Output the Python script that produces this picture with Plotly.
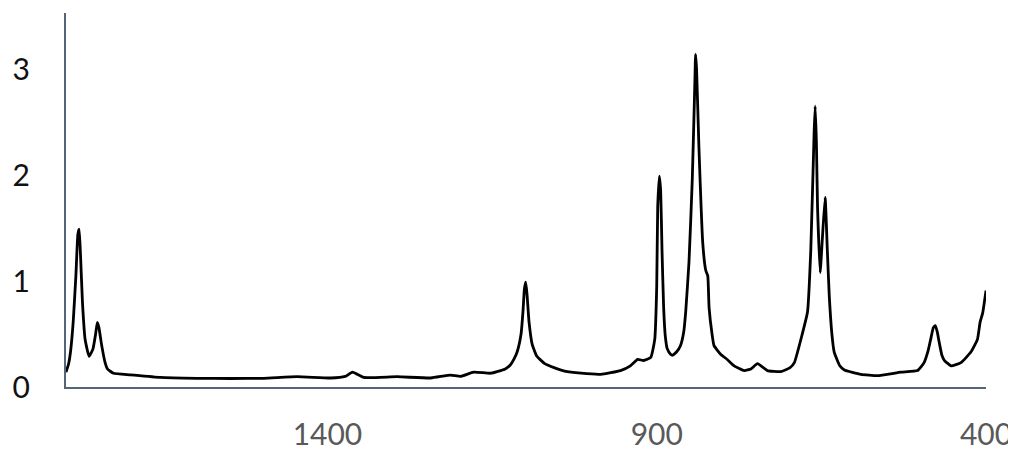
import plotly.graph_objects as go

# Raman-like spectrum (wavenumber, intensity)
wavenumber = [1797, 1793, 1790, 1786, 1782, 1779, 1777, 1775, 1772, 1768, 1762, 1756, 1752, 1749.5, 1747, 1743, 1738, 1734, 1725,
              1699, 1654, 1598, 1547, 1497, 1446, 1395, 1373, 1362, 1345, 1294, 1243, 1213, 1198, 1178, 1152,
              1137, 1130, 1122, 1117, 1112, 1106, 1103, 1101, 1099, 1097, 1094, 1089, 1082, 1070, 1055, 1040, 1015, 985,
              955, 940, 929, 920, 909, 903, 900, 898.5, 896, 894, 892, 889.5, 887, 884, 879, 876, 870, 864, 859, 856, 851, 846, 842, 841, 839.5,
              836, 830, 825.5, 822.5, 820.5, 816, 813, 803, 793, 782.5, 767, 757, 747, 732, 712, 698, 691, 679, 671, 666,
              661, 659.4, 657.5, 655.8, 651.8, 648.5, 644.3, 641, 638, 634, 630.5, 622, 615, 590, 565, 529, 504, 494, 488, 484,
              480, 477, 474, 471, 467, 463, 453, 438, 423, 413, 409, 405, 400]
intensity = [0.14, 0.22, 0.34, 0.62, 1.05, 1.44, 1.49, 1.25, 0.80, 0.45, 0.29, 0.36, 0.50, 0.61, 0.56, 0.40, 0.24, 0.17, 0.13,
             0.115, 0.09, 0.082, 0.08, 0.082, 0.097, 0.085, 0.10, 0.14, 0.09, 0.097, 0.085, 0.113, 0.10, 0.14, 0.13,
             0.155, 0.17, 0.21, 0.26, 0.33, 0.50, 0.72, 0.92, 0.99, 0.88, 0.62, 0.40, 0.29, 0.22, 0.18, 0.15, 0.13, 0.12,
             0.155, 0.20, 0.26, 0.25, 0.28, 0.45, 0.95, 1.70, 1.99, 1.85, 1.30, 0.75, 0.48, 0.36, 0.31, 0.30, 0.33, 0.39, 0.52, 0.71, 1.18, 1.96, 2.90, 3.14, 3.00,
             2.28, 1.35, 1.10, 1.05, 0.75, 0.50, 0.39, 0.31, 0.26, 0.20, 0.155, 0.17, 0.22, 0.155, 0.145, 0.18, 0.23, 0.50, 0.71, 1.30,
             2.40, 2.65, 2.30, 1.70, 1.08, 1.40, 1.79, 1.30, 0.86, 0.50, 0.33, 0.20, 0.16, 0.12, 0.107, 0.14, 0.155, 0.23, 0.34, 0.45,
             0.56, 0.58, 0.52, 0.42, 0.30, 0.25, 0.20, 0.23, 0.33, 0.45, 0.61, 0.70, 0.91]

x_ticks = [1400, 900, 400]
y_ticks = [0, 1, 2, 3]

fig = go.Figure()
fig.add_trace(go.Scatter(x=wavenumber, y=intensity, mode="lines",
                         line=dict(color="black", width=2.8, shape="spline", smoothing=0.4),
                         showlegend=False, hoverinfo="skip"))

axis_col = "#56647a"
# page body has an 8px default margin, so the figure is sized 1008x442
fig.update_layout(
    width=1008, height=442,
    margin=dict(l=58, r=30, t=5, b=63),
    paper_bgcolor="white", plot_bgcolor="white",
    font=dict(family="Lato, Open Sans, sans-serif"),
    xaxis=dict(range=[1797, 400], tickvals=x_ticks, ticktext=[str(v) for v in x_ticks],
               showgrid=False, zeroline=False, showline=True, linecolor=axis_col, linewidth=2,
               ticks="", tickfont=dict(size=30, color="#595959"), ticklabelstandoff=20,
               automargin=False),
    yaxis=dict(range=[0, 3.53], tickvals=y_ticks, ticktext=[str(v) for v in y_ticks],
               showgrid=False, zeroline=False, showline=True, linecolor=axis_col, linewidth=2,
               ticks="", tickfont=dict(size=30, color="#111111"), ticklabelstandoff=28,
               automargin=False),
)

fig.write_html("out.html")
